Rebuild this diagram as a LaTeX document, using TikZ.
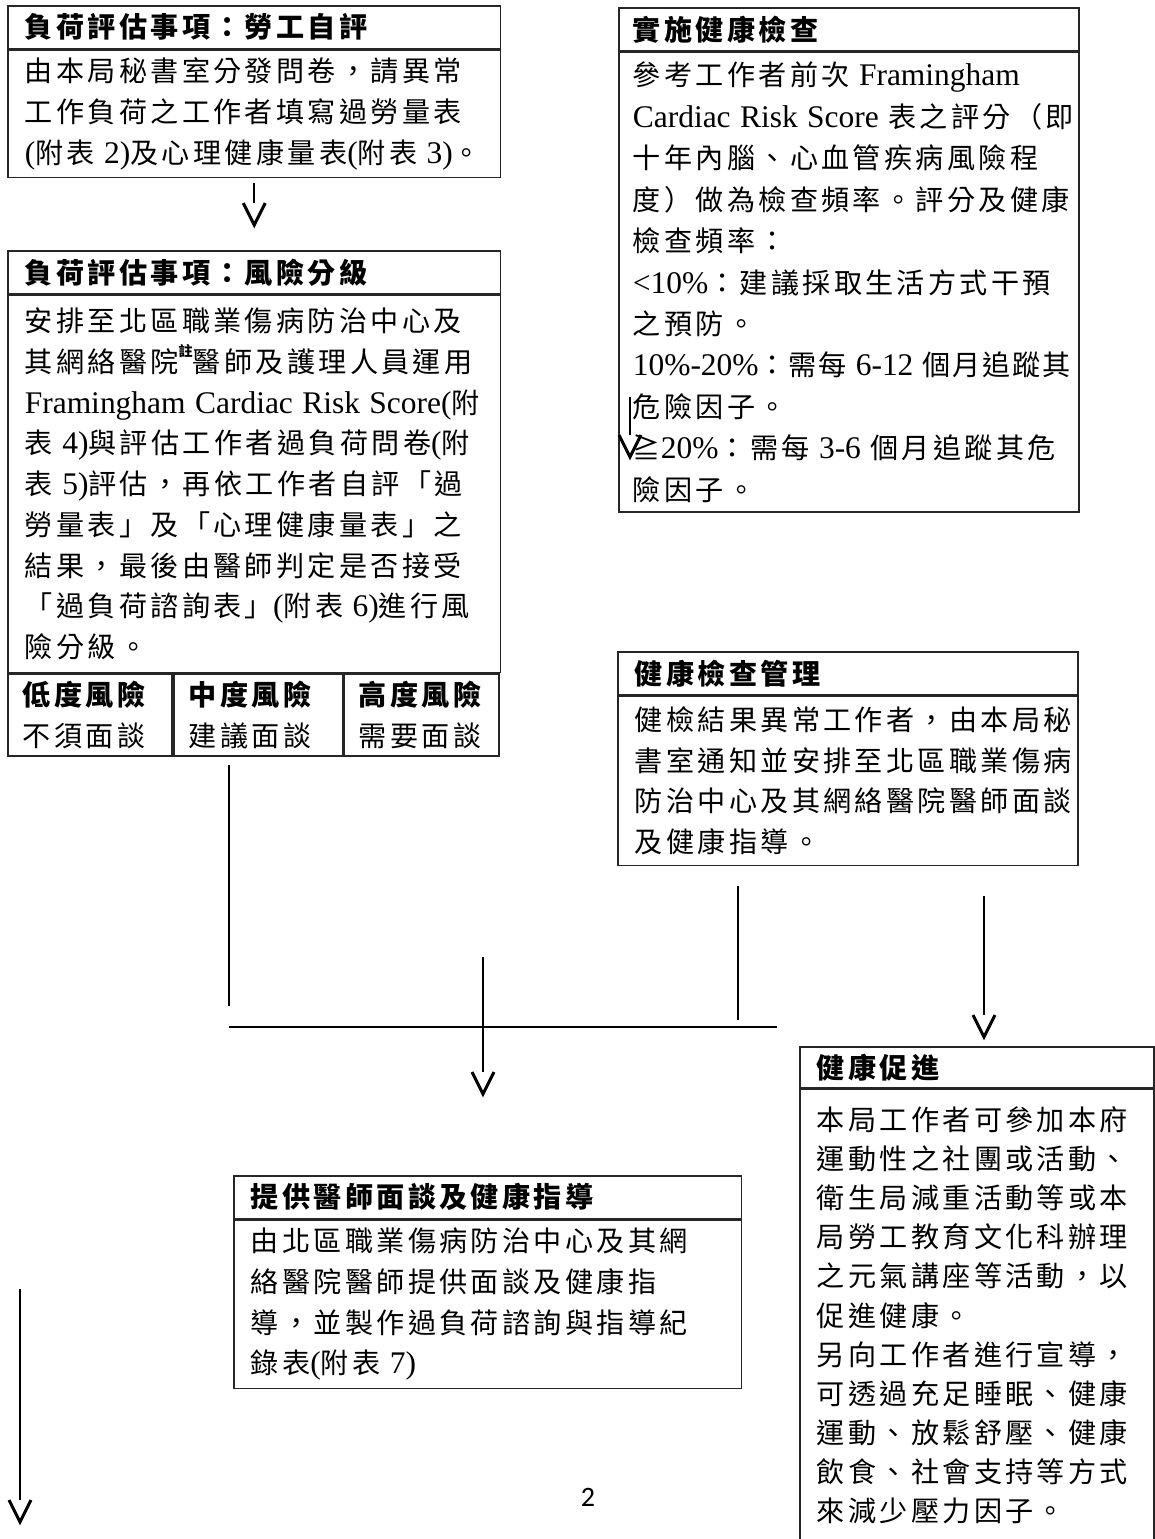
\documentclass[tikz,border=0pt]{standalone}
\usepackage{fontspec}
\setmainfont{Noto Sans CJK TC}[LetterSpace=11.9]
\newfontfamily\latn{Liberation Serif}[Scale=1.12]
\newfontfamily\pgnum{Carlito}
\usetikzlibrary{positioning}

\tikzset{
  boxline/.style={draw=black!85, line width=0.9pt},
  head/.style={boxline, anchor=north west, minimum height=0.86cm, inner xsep=0.34cm, inner ysep=0pt, align=left, font=\fontsize{16}{23.2}\selectfont\bfseries},
  body/.style={boxline, anchor=north west, inner xsep=0.34cm, inner ysep=0pt, align=left, font=\fontsize{16}{23.2}\selectfont},
  cell/.style={body, inner xsep=0.3cm, minimum height=1.64cm},
  conn/.style={line width=1.1pt},
  vtip/.pic={\draw[line width=1.7pt, line join=miter] (-11,0) -- (0,22) -- (11,0);},
}

\begin{document}
\begin{tikzpicture}[x=0.02cm, y=-0.02cm]
\useasboundingbox (0,0) rectangle (1155,1539);
\clip (0,0) rectangle (1155,1539);

% self assessment
\node[head, text width=9.18cm] (t1) at (7,5) {負荷評估事項：勞工自評};
\node[body, text width=9.18cm, minimum height=2.54cm] (b1) at (t1.south west) {由本局秘書室分發問卷，請異常\\
工作負荷之工作者填寫過勞量表\\
{\latn(}附表{\latn~2)}及心理健康量表{\latn(}附表{\latn~3)}。};

% risk grading
\node[head, text width=9.18cm] (t2) at (7,250) {負荷評估事項：風險分級};
\node[body, text width=9.18cm, minimum height=7.54cm] (b2) at (t2.south west) {安排至北區職業傷病防治中心及\\
其網絡醫院\raisebox{0.55em}{\fontsize{8}{8}\selectfont\bfseries 註}醫師及護理人員運用\\
{\latn Framingham~Cardiac~Risk~Score(}附\\
表{\latn~4)}與評估工作者過負荷問卷{\latn(}附\\
表{\latn~5)}評估，再依工作者自評「過\\
勞量表」及「心理健康量表」之\\
結果，最後由醫師判定是否接受\\
「過負荷諮詢表」{\latn(}附表{\latn~6)}進行風\\
險分級。};
\node[cell, text width=2.69cm] (c1) at (b2.south west) {\textbf{低度風險}\\不須面談};
\node[cell, text width=2.77cm] (c2) at (c1.north east) {\textbf{中度風險}\\建議面談};
\node[cell, text width=2.50cm] (c3) at (c2.north east) {\textbf{高度風險}\\需要面談};

% health check
\node[head, text width=8.64cm, inner xsep=0.28cm] (t3) at (618,7) {實施健康檢查};
\node[body, text width=8.64cm, inner xsep=0.28cm, minimum height=9.2cm, font=\fontsize{16}{23.6}\selectfont] (b3) at (t3.south west) {參考工作者前次{\latn~Framingham}\\
{\latn Cardiac~Risk~Score~}表之評分（即\\
十年內腦、心血管疾病風險程\\
度）做為檢查頻率。評分及健康\\
檢查頻率：\\
\mbox{\latn<10\%}：建議採取生活方式干預\\
之預防。\\
{\addfontfeature{LetterSpace=6}\mbox{\latn 10\%-20\%}：需每\mbox{\latn~6-12~}個月追蹤其}\\
危險因子。\\
≧\mbox{\latn 20\%}：需每\mbox{\latn~3-6~}個月追蹤其危\\
險因子。};

% check management
\node[head, text width=8.52cm] (t4) at (617,651) {健康檢查管理};
\node[body, text width=8.52cm, minimum height=3.38cm] (b4) at (t4.south west) {健檢結果異常工作者，由本局秘\\
書室通知並安排至北區職業傷病\\
防治中心及其網絡醫院醫師面談\\
及健康指導。};

% interview
\node[head, text width=9.48cm] (t5) at (233,1175) {提供醫師面談及健康指導};
\node[body, text width=9.48cm, minimum height=3.36cm] (b5) at (t5.south west) {由北區職業傷病防治中心及其網\\
絡醫院醫師提供面談及健康指\\
導，並製作過負荷諮詢與指導紀\\
錄表{\latn(}附表{\latn~7)}};

% promotion (runs off the page)
\node[head, text width=6.40cm, minimum height=0.82cm] (t6) at (799,1046) {健康促進};
\node[body, text width=6.40cm, minimum height=11.34cm, font=\fontsize{16}{22.3}\selectfont] (b6) at (t6.south west) {本局工作者可參加本府\\
運動性之社團或活動、\\
衛生局減重活動等或本\\
局勞工教育文化科辦理\\
之元氣講座等活動，以\\
促進健康。\\
另向工作者進行宣導，\\
可透過充足睡眠、健康\\
運動、放鬆舒壓、健康\\
飲食、社會支持等方式\\
來減少壓力因子。\\ \mbox{}\\ \mbox{}\\ \mbox{}};

\node[font=\pgnum\fontsize{16}{18}\selectfont] (pg) at (588,1497) {2};

% connectors
\coordinate (a1s) at ([yshift=-0.1cm]b1.south);
\coordinate (a1e) at (a1s |- 0,203);
\coordinate (l1s) at (229,765);
\coordinate (l1e) at (229,1006);
\coordinate (h1s) at (229,1027);
\coordinate (h1e) at (777,1027);
\coordinate (a2s) at (483,957);
\coordinate (a2e) at (483,1072);
\coordinate (r1s) at (738,886);
\coordinate (r1e) at (738,1020);
\coordinate (a3s) at (984,896);
\coordinate (a3e) at (984,1015);
\coordinate (a4s) at (630,397);
\coordinate (a4e) at (630,435);
\coordinate (a5s) at (20,1289);
\coordinate (a5e) at (20,1500);

\draw[conn] (a1s) -- (a1e);
\draw[conn] (l1s) -- (l1e);
\draw[conn] (h1s) -- (h1e);
\draw[conn] (a2s) -- (a2e);
\draw[conn] (r1s) -- (r1e);
\draw[conn] (a3s) -- (a3e);
\draw[conn] (a4s) -- (a4e);
\draw[conn] (a5s) -- (a5e);
\foreach \e in {a1e,a2e,a3e,a4e,a5e}
  \pic at (\e) {vtip};
\end{tikzpicture}
\end{document}
